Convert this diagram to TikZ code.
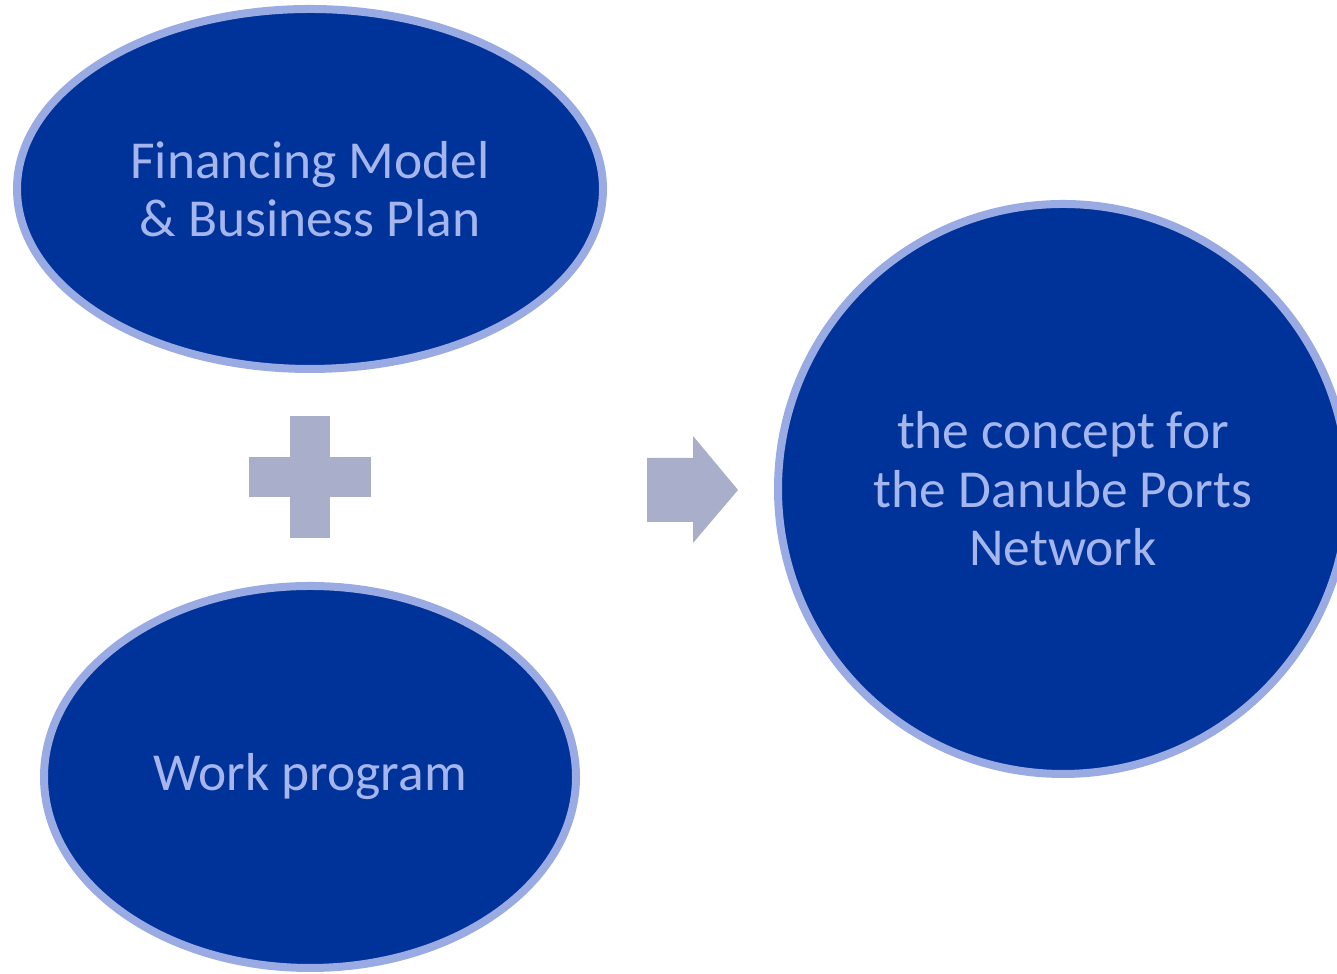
\documentclass[tikz,border=0pt]{standalone}
\usepackage{fontspec}
\setmainfont{Carlito}
\usetikzlibrary{shapes.geometric}
\definecolor{portblue}{HTML}{003399}
\definecolor{portrim}{HTML}{9AAAE2}
\definecolor{porttext}{HTML}{A6B6EC}
\definecolor{signgray}{HTML}{A9AECB}
\tikzset{
  blob/.style={ellipse, draw=portrim, fill=portblue, line width=0.08cm,
    inner sep=0pt, text=porttext, align=center,
    font=\fontsize{15.2}{16.6}\selectfont},
  sign/.style={fill=signgray, draw=none}
}
\begin{document}
\begin{tikzpicture}
    \useasboundingbox (0,0) rectangle (13.37,9.74);

    % Input ellipses
    \node[blob, minimum width=5.86cm, minimum height=3.60cm] (plan) at (3.10,7.85)
        {Financing Model\\\& Business Plan};
    \node[blob, minimum width=5.32cm, minimum height=3.82cm] (work) at (3.10,1.97)
        {Work program};

    % Result circle
    \node[blob, circle, minimum size=5.70cm] (concept) at (10.63,4.85)
        {the concept for\\the Danube Ports\\Network};

    % Plus sign
    \coordinate (plus) at (3.10,4.97);
    \fill[sign] ([shift={(-0.20,-0.61)}]plus) rectangle ([shift={(0.20,0.61)}]plus);
    \fill[sign] ([shift={(-0.61,-0.20)}]plus) rectangle ([shift={(0.61,0.20)}]plus);

    % Arrow towards the concept
    \fill[sign] (6.47,4.52) -- (6.93,4.52) -- (6.93,4.31) -- (7.38,4.84)
        -- (6.93,5.38) -- (6.93,5.16) -- (6.47,5.16) -- cycle;
\end{tikzpicture}
\end{document}
